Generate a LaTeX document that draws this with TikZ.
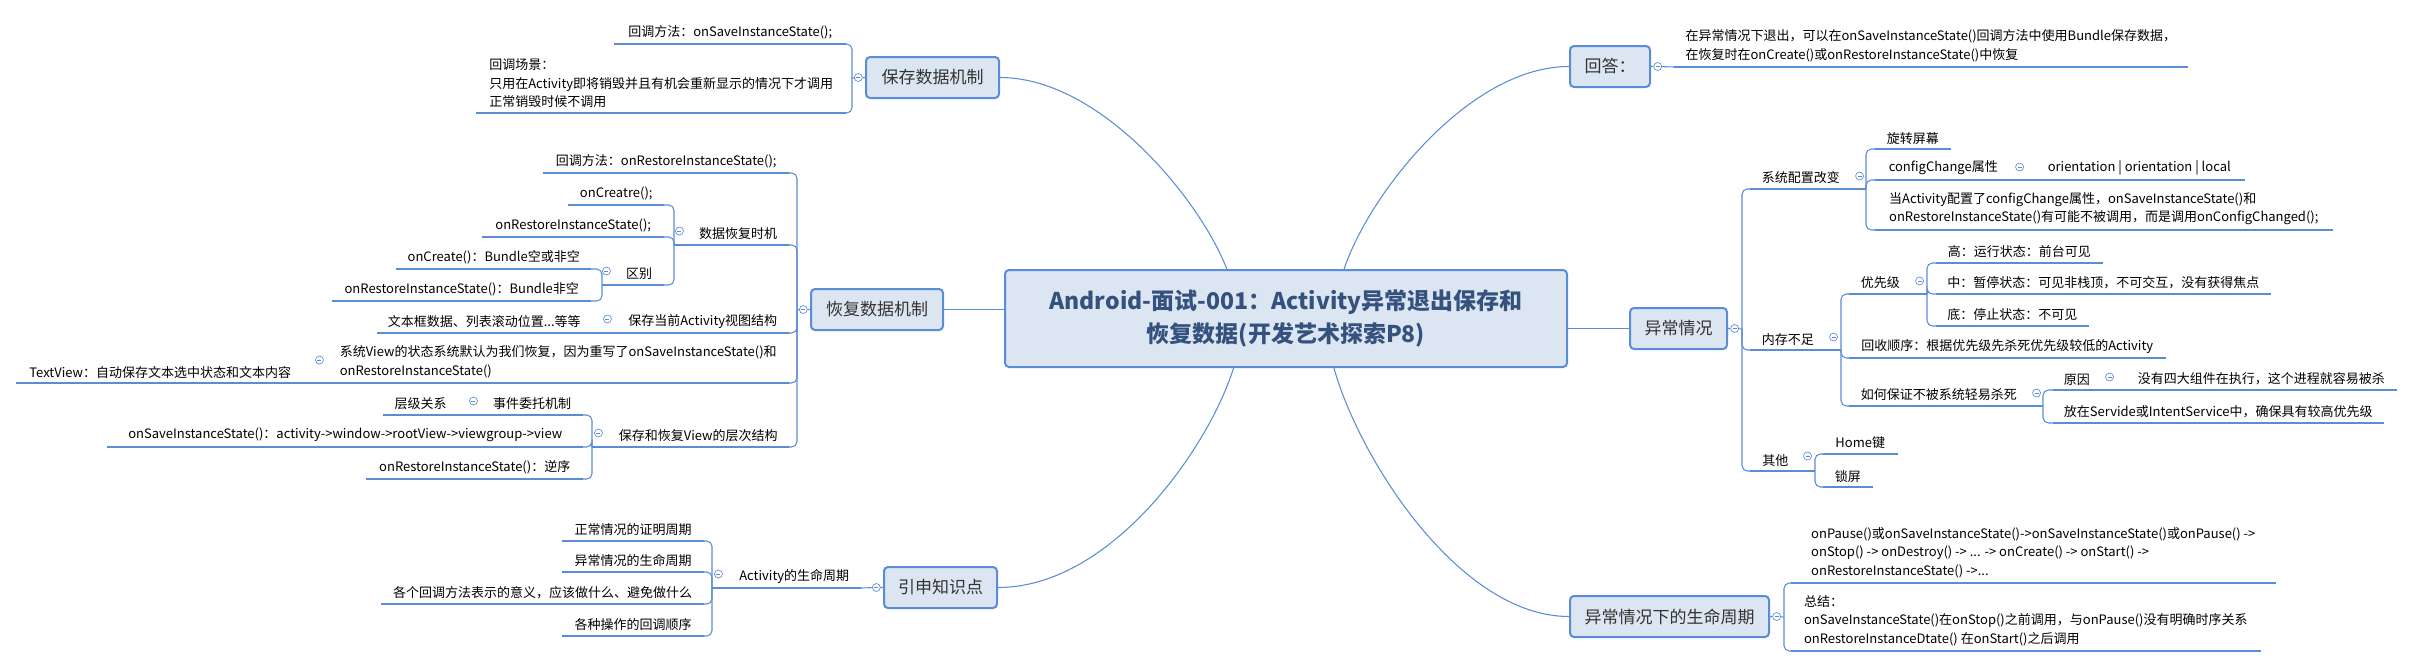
\documentclass[tikz,border=0pt]{standalone}
\usepackage{fontspec}
\setmainfont{Noto Sans CJK SC}
\usetikzlibrary{calc}

\definecolor{branch}{HTML}{5B8DD6}
\definecolor{boxfill}{HTML}{DCE6F2}
\definecolor{titletext}{HTML}{35527F}
\definecolor{topictext}{HTML}{333333}

\begin{document}
\begin{tikzpicture}[x=0.75pt,y=-0.75pt,
  w/.style={minimum width=#1*0.75pt},
  conn/.style={draw=branch, line width=0.8pt, rounded corners=4pt},
  uline/.style={draw=branch, line width=2.2pt},
  mainbox/.style={draw=branch, fill=boxfill, line width=1.5pt, rounded corners=3pt, minimum height=30.75pt, inner xsep=6pt, font=\fontsize{12.75}{15}\selectfont, text=topictext},
  titlebox/.style={mainbox, minimum height=72.75pt, align=center, font=\fontsize{17.25}{24.75}\selectfont\bfseries, text=titletext},
  lt/.style={anchor=south east, align=left, inner xsep=6pt, inner ysep=3.5pt, font=\fontsize{9.75}{13.9}\selectfont},
  rt/.style={lt, anchor=south west},
  fold/.style={circle, draw=branch, fill=white, line width=0.5pt, minimum size=6pt, inner sep=0pt,
    path picture={\draw[branch, line width=0.5pt] ([xshift=1.5pt]path picture bounding box.west) -- ([xshift=-1.5pt]path picture bounding box.east);}}
]
\useasboundingbox (0,0) rectangle (2413,668);

% central topic
\node[titlebox, w=562] (title) at (1286,318.5) {Android-面试-001：Activity异常退出保存和\\恢复数据(开发艺术探索P8)};

% main topics
\node[mainbox, w=133] (save) at (932.5,77.5) {保存数据机制};
\node[mainbox, w=132] (rest) at (877,309.5) {恢复数据机制};
\node[mainbox, w=113] (ext) at (940.5,587.5) {引申知识点};
\node[mainbox, w=80] (ans) at (1610,66.5) {回答：};
\node[mainbox, w=97] (abn) at (1678.5,328.5) {异常情况};
\node[mainbox, w=199] (life) at (1669.5,616.5) {异常情况下的生命周期};

\node[fold] (fs) at ([xshift=-5pt]save.west) {};
\node[fold] (fr) at ([xshift=-5pt]rest.west) {};
\node[fold] (fe) at ([xshift=-5pt]ext.west) {};
\node[fold] (fa) at ([xshift=5pt]ans.east) {};
\node[fold] (fb) at ([xshift=5pt]abn.east) {};
\node[fold] (fl) at ([xshift=5pt]life.east) {};

% left side
\node[lt, w=231] (s1) at (846,44) {回调方法：onSaveInstanceState();};
\node[lt, w=369] (s2) at (846,113) {回调场景：\\只用在Activity即将销毁并且有机会重新显示的情况下才调用\\正常销毁时候不调用};

\node[lt, w=245] (r1) at (789,173) {回调方法：onRestoreInstanceState();};
\node[lt, w=101] (r2) at (789,245) {数据恢复时机};
\node[lt, w=95] (r21) at (664,205) {onCreatre();};
\node[lt, w=181] (r22) at (664,237) {onRestoreInstanceState();};
\node[lt, w=49] (r23) at (664,285) {区别};
\node[lt, w=194] (r231) at (591,269) {onCreate()：Bundle空或非空};
\node[lt, w=258] (r232) at (591,301) {onRestoreInstanceState()：Bundle非空};
\node[lt, w=172] (r3) at (789,333) {保存当前Activity视图结构};
\node[lt, w=213] (r31) at (591,333) {文本框数据、列表滚动位置...等等};
\node[lt, w=461] (r4) at (789,383) {系统View的状态系统默认为我们恢复，因为重写了onSaveInstanceState()和\\onRestoreInstanceState()};
\node[lt, w=287] (r41) at (304,383) {TextView：自动保存文本选中状态和文本内容};
\node[lt, w=181] (r5) at (789,447) {保存和恢复View的层次结构};
\node[lt, w=101] (r51) at (583,415) {事件委托机制};
\node[lt, w=74] (r511) at (458,415) {层级关系};
\node[lt, w=475] (r52) at (583,447) {onSaveInstanceState()：activity->window->rootView->viewgroup->view};
\node[lt, w=216] (r53) at (583,479) {onRestoreInstanceState()：逆序};

\node[lt, w=133] (e1) at (861,588) {Activity的生命周期};
\node[lt, w=141] (e11) at (704,541) {正常情况的证明周期};
\node[lt, w=141] (e12) at (704,572) {异常情况的生命周期};
\node[lt, w=322] (e13) at (704,604) {各个回调方法表示的意义，应该做什么、避免做什么};
\node[lt, w=141] (e14) at (704,636) {各种操作的回调顺序};

% right side
\node[rt, w=513] (a1) at (1674,67) {在异常情况下退出，可以在onSaveInstanceState()回调方法中使用Bundle保存数据，\\在恢复时在onCreate()或onRestoreInstanceState()中恢复};

\node[rt, w=101] (b1) at (1750,189) {系统配置改变};
\node[rt, w=75] (b11) at (1875,149) {旋转屏幕};
\node[rt, w=136] (b12) at (1875,180) {configChange属性};
\node[rt, w=210] (b121) at (2034,180) {orientation | orientation | local};
\node[rt, w=457] (b13) at (1875,230) {当Activity配置了configChange属性，onSaveInstanceState()和\\onRestoreInstanceState()有可能不被调用，而是调用onConfigChanged();};
\node[rt, w=75] (b2) at (1750,350) {内存不足};
\node[rt, w=62] (b21) at (1849,294) {优先级};
\node[rt, w=166] (b211) at (1936,263) {高：运行状态：前台可见};
\node[rt, w=334] (b212) at (1936,294) {中：暂停状态：可见非栈顶，不可交互，没有获得焦点};
\node[rt, w=152] (b213) at (1936,326) {底：停止状态：不可见};
\node[rt, w=316] (b22) at (1849,358) {回收顺序：根据优先级先杀死优先级较低的Activity};
\node[rt, w=179] (b23) at (1849,406) {如何保证不被系统轻易杀死};
\node[rt, w=47] (b231) at (2053,390) {原因};
\node[rt, w=270] (b2311) at (2126,390) {没有四大组件在执行，这个进程就容易被杀};
\node[rt, w=330] (b232) at (2053,423) {放在Servide或IntentService中，确保具有较高优先级};
\node[rt, w=50] (b3) at (1750,471) {其他};
\node[rt, w=74] (b31) at (1823,454) {Home键};
\node[rt, w=49] (b32) at (1823,487) {锁屏};

\node[rt, w=484] (l1) at (1791,583) {onPause()或onSaveInstanceState()->onSaveInstanceState()或onPause() ->\\onStop() -> onDestroy() -> ... -> onCreate() -> onStart() ->\\onRestoreInstanceState() ->...};
\node[rt, w=469] (l2) at (1791,651) {总结：\\onSaveInstanceState()在onStop()之前调用，与onPause()没有明确时序关系\\onRestoreInstanceDtate() 在onStart()之后调用};

% fold buttons of the sub topics
\node[fold] (fr2) at ([shift={(-8,-14)}]r2.south west) {};
\node[fold] (fr23) at ([shift={(-8,-14)}]r23.south west) {};
\node[fold] (fr3) at ([shift={(-9,-14)}]r3.south west) {};
\node[fold] (fr4) at ([shift={(-8,-23)}]r4.south west) {};
\node[fold] (fr5) at ([shift={(-9,-14)}]r5.south west) {};
\node[fold] (fr51) at ([shift={(-8,-14)}]r51.south west) {};
\node[fold] (fe1) at ([shift={(-9,-14)}]e1.south west) {};
\node[fold] (fb1) at ([shift={(8,-13)}]b1.south east) {};
\node[fold] (fb12) at ([shift={(8,-13)}]b12.south east) {};
\node[fold] (fb2) at ([shift={(8,-13)}]b2.south east) {};
\node[fold] (fb21) at ([shift={(8,-13)}]b21.south east) {};
\node[fold] (fb23) at ([shift={(8,-13)}]b23.south east) {};
\node[fold] (fb231) at ([shift={(9,-13)}]b231.south east) {};
\node[fold] (fb3) at ([shift={(7,-15)}]b3.south east) {};

% underlines
\foreach \n in {s1,s2,r1,r2,r21,r22,r23,r231,r232,r3,r31,r4,r41,r5,r51,r511,r52,r53,e1,e11,e12,e13,e14,
  a1,b1,b11,b12,b121,b13,b2,b21,b211,b212,b213,b22,b23,b231,b2311,b232,b3,b31,b32,l1,l2}
  \draw[uline] (\n.south west) -- (\n.south east);

% draw the curves
\draw[conn] (save.east) .. controls +(100,0) and +(-27,-70) .. ($(title.north west)!0.395!(title.north east)$);
\draw[conn] (ans.west) .. controls +(-100,0) and +(25,-75) .. ($(title.north west)!0.603!(title.north east)$);
\draw[conn] (ext.east) .. controls +(113,0) and +(-25,80) .. ($(title.south west)!0.407!(title.south east)$);
\draw[conn] (life.west) .. controls +(-110,0) and +(25,90) .. ($(title.south west)!0.585!(title.south east)$);
\draw[conn] (rest.east) -- (rest.east -| title.west);
\draw[conn] (abn.west) -- (abn.west -| title.east);

% junctions
\coordinate (js) at (852,78);
\coordinate (jr) at (797,310);
\coordinate (j2) at (674,245);
\coordinate (j23) at (602,285);
\coordinate (j5) at (592,447);
\coordinate (je) at (712,588);
\coordinate (ja) at (1666,67);
\coordinate (jb) at (1742,329);
\coordinate (jb1) at (1866,189);
\coordinate (jb2) at (1841,350);
\coordinate (jb21) at (1927,294);
\coordinate (jb23) at (2043,406);
\coordinate (jb3) at (1815,471);
\coordinate (jl) at (1784,617);

% left branches
\draw[conn] (save.west) -- (fs) -- (js);
\foreach \n in {s1,s2} \draw[conn] (js) |- (\n.south east);
\draw[conn] (rest.west) -- (fr) -- (jr);
\foreach \n in {r1,r2,r3,r4,r5} \draw[conn] (jr) |- (\n.south east);
\draw[conn] (r2.south west) -- (j2);
\foreach \n in {r21,r22,r23} \draw[conn] (j2) |- (\n.south east);
\draw[conn] (r23.south west) -- (j23);
\foreach \n in {r231,r232} \draw[conn] (j23) |- (\n.south east);
\draw[conn] (r3.south west) -- (r31.south east);
\draw[conn] (r4.south west) -- (r41.south east);
\draw[conn] (r5.south west) -- (j5);
\foreach \n in {r51,r52,r53} \draw[conn] (j5) |- (\n.south east);
\draw[conn] (r51.south west) -- (r511.south east);
\draw[conn] (ext.west) -- (fe) -- (e1.south east);
\draw[conn] (e1.south west) -- (je);
\foreach \n in {e11,e12,e13,e14} \draw[conn] (je) |- (\n.south east);

% right branches
\draw[conn] (ans.east) -- (fa) -- (a1.south west);
\draw[conn] (abn.east) -- (fb) -- (jb);
\foreach \n in {b1,b2,b3} \draw[conn] (jb) |- (\n.south west);
\draw[conn] (b1.south east) -- (jb1);
\foreach \n in {b11,b12,b13} \draw[conn] (jb1) |- (\n.south west);
\draw[conn] (b12.south east) -- (b121.south west);
\draw[conn] (b2.south east) -- (jb2);
\foreach \n in {b21,b22,b23} \draw[conn] (jb2) |- (\n.south west);
\draw[conn] (b21.south east) -- (jb21);
\foreach \n in {b211,b212,b213} \draw[conn] (jb21) |- (\n.south west);
\draw[conn] (b23.south east) -- (jb23);
\foreach \n in {b231,b232} \draw[conn] (jb23) |- (\n.south west);
\draw[conn] (b231.south east) -- (b2311.south west);
\draw[conn] (b3.south east) -- (jb3);
\foreach \n in {b31,b32} \draw[conn] (jb3) |- (\n.south west);
\draw[conn] (life.east) -- (fl) -- (jl);
\foreach \n in {l1,l2} \draw[conn] (jl) |- (\n.south west);

\end{tikzpicture}
\end{document}
